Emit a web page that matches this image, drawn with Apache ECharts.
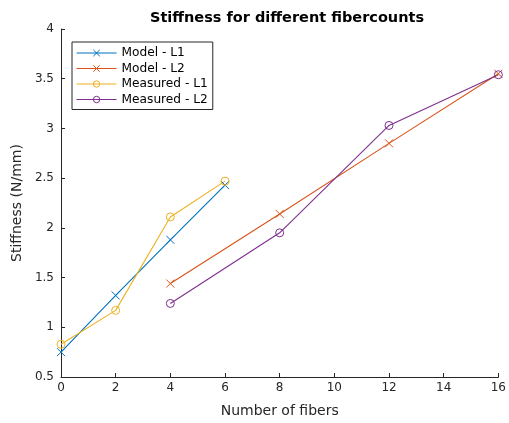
<!DOCTYPE html>
<html><head><meta charset="utf-8">
<script src="https://cdn.jsdelivr.net/npm/echarts@6/dist/echarts.min.js"></script>
<style>html,body{margin:0;padding:0;background:#fff}#c{width:509px;height:423px}</style>
</head><body><div id="c"></div>
<script>
const seriesNames = ['Model - L1', 'Model - L2', 'Measured - L1', 'Measured - L2'];
const xModelL1 = [0, 2, 4, 6];
const yModelL1 = [0.75, 1.32, 1.88, 2.43];
const xModelL2 = [4, 8, 12, 16];
const yModelL2 = [1.44, 2.14, 2.85, 3.55];
const xMeasL1 = [0, 2, 4, 6];
const yMeasL1 = [0.83, 1.17, 2.11, 2.47];
const xMeasL2 = [4, 8, 12, 16];
const yMeasL2 = [1.24, 1.95, 3.03, 3.54];
const colors = ['#0072BD', '#D95319', '#EDB120', '#7E2F8E'];
const crossPath = 'path://M0,0L10,10M10,0L0,10';

function pairs(xs, ys) { return xs.map((x, i) => [x, ys[i]]); }
function mk(name, xs, ys, c, sym) {
  return {
    name, type: 'line', data: pairs(xs, ys), color: c,
    symbol: sym, symbolSize: 8, showAllSymbol: true,
    lineStyle: { color: c, width: 1.1 },
    itemStyle: { color: 'transparent', borderColor: c, borderWidth: 1 },
    emphasis: { disabled: true }, animation: false
  };
}
const chart = echarts.init(document.getElementById('c'));
const axisText = { color: '#262626', fontSize: 12, fontFamily: 'DejaVu Sans' };
chart.setOption({
  backgroundColor: '#fff',
  animation: false,
  title: { text: 'Stiffness for different fibercounts', left: 282, textAlign: 'center', top: 6,
    textStyle: { fontSize: 14.5, fontWeight: 'bold', color: '#000', fontFamily: 'DejaVu Sans' } },
  grid: { left: 61, right: 7, top: 29, bottom: 46 },
  legend: {
    orient: 'vertical', left: 72, top: 42, itemWidth: 40, itemHeight: 8, itemGap: 3.5,
    padding: [5, 5, 4, 4], borderColor: '#262626', borderWidth: 1, backgroundColor: '#fff',
    itemStyle: { borderWidth: 1, borderColor: 'inherit', color: 'transparent' },
    lineStyle: { width: 1.1, color: 'inherit' },
    textStyle: { fontSize: 12.2, color: '#000', fontFamily: 'DejaVu Sans' },
    data: seriesNames
  },
  xAxis: {
    type: 'value', min: 0, max: 16, interval: 2,
    name: 'Number of fibers', nameLocation: 'middle', nameGap: 27,
    nameTextStyle: { fontSize: 14, color: '#262626', fontFamily: 'DejaVu Sans' },
    axisLine: { show: true, lineStyle: { color: '#262626' } },
    axisTick: { inside: true, length: 4, lineStyle: { color: '#262626' } },
    axisLabel: Object.assign({ margin: 5 }, axisText),
    splitLine: { show: false }
  },
  yAxis: {
    type: 'value', min: 0.5, max: 4, interval: 0.5,
    name: 'Stiffness (N/mm)', nameLocation: 'middle', nameGap: 34,
    nameTextStyle: { fontSize: 14, color: '#262626', fontFamily: 'DejaVu Sans' },
    axisLine: { show: true, lineStyle: { color: '#262626' } },
    axisTick: { show: true, inside: true, length: 4, lineStyle: { color: '#262626' } },
    axisLabel: Object.assign({ margin: 7 }, axisText),
    splitLine: { show: false }
  },
  series: [
    mk(seriesNames[0], xModelL1, yModelL1, colors[0], crossPath),
    mk(seriesNames[1], xModelL2, yModelL2, colors[1], crossPath),
    mk(seriesNames[2], xMeasL1, yMeasL1, colors[2], 'circle'),
    mk(seriesNames[3], xMeasL2, yMeasL2, colors[3], 'circle')
  ]
});
</script></body></html>
